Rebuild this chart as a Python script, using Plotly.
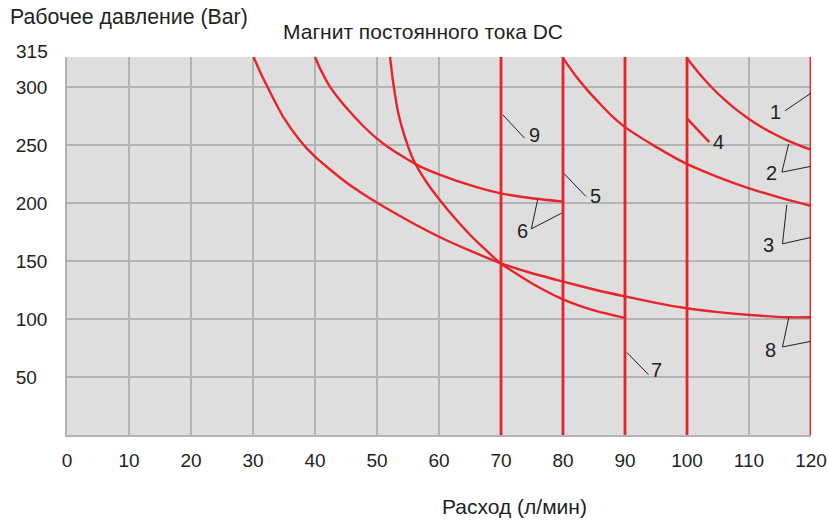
import plotly.graph_objects as go

# ---- axes -----------------------------------------------------------------
# The top edge of the pressure scale carries the 315 bar label
Y_TOP = 326
X_TICKS = list(range(0, 121, 10))
Y_TICKS = [50, 100, 150, 200, 250, 300, Y_TOP]
Y_TICK_TEXT = ["50&nbsp;&nbsp;", "100", "150", "200", "250", "300", ""]
Y_TOP_LABEL = "315"

# ---- characteristic curves: flow (l/min) vs pressure (bar) -----------------
curve8_x = [30.1, 31.2, 32.4, 33.3, 34.8, 37.5, 40.0, 45.0, 50.1, 55.0, 60.0,
            65.0, 69.8, 75.0, 79.9, 85.0, 90.0, 95.0, 99.7, 105.0, 110.2,
            116.3, 120.0]
curve8_y = [326, 312.5, 299.5, 290, 275, 254.5, 240, 218, 200, 185, 171,
            159, 148.5, 139.5, 132.5, 125.5, 119.5, 114, 109.5, 106, 103.5,
            101.5, 101.5]

curve6_x = [40.0, 41.0, 42.4, 44.0, 45.6, 47.5, 49.9, 52.0, 54.8, 57.0, 60.2,
            65.0, 69.8, 75.0, 79.9]
curve6_y = [326, 314, 300.5, 289, 279, 268, 256, 247.5, 238, 231.5, 224.4,
            215.5, 208.6, 204.2, 201.4]

curve7_x = [52.1, 52.7, 53.5, 54.5, 55.9, 58.0, 60.0, 62.5, 65.0, 67.5, 69.8,
            72.5, 75.0, 80.0, 85.0, 90.0]
curve7_y = [326, 300.5, 276, 257, 237, 218, 203.5, 187.3, 172.7, 159.8, 148.5,
            139, 130.7, 117, 107.5, 101]

curve3_x = [80.0, 82.0, 84.0, 86.0, 88.3, 90.0, 95.0, 99.7, 105.0, 109.9,
            115.0, 120.0]
curve3_y = [325, 310, 297, 285.5, 273, 265.5, 248.5, 234.5, 222.5, 213,
            204.7, 197.5]

curve2_x = [100.0, 102.0, 104.0, 106.0, 108.0, 110.0, 112.0, 114.0, 116.0,
            118.0, 120.0]
curve2_y = [325, 311.6, 299.7, 289.4, 280.4, 272.6, 265.7, 259.8, 254.6,
            250.1, 246.1]

curve4_x = [100.1, 103.6]
curve4_y = [272.4, 252.6]

# vertical limit lines (flow, l/min)
limit_x = [70, 80, 90, 100, 120]

# ---- curve numbers and their leader lines ----------------------------------
label_text = ["1", "2", "3", "4", "5", "6", "7", "8", "9"]
label_pos = [(114.2, 278.5), (113.7, 226.0), (113.2, 164.0), (105.1, 253.0),
             (85.3, 206.3), (73.4, 176.1), (95.1, 56.3), (113.4, 73.5),
             (75.4, 259.0)]
leaders = [
    [(115.8, 279.6), (120.0, 294.8)],
    [(116.4, 251.1), (115.3, 226.7), (119.9, 231.6)],
    [(116.1, 198.5), (115.4, 164.9), (119.9, 170.3)],
    [(80.2, 225.3), (83.7, 205.7)],
    [(75.9, 202.8), (74.9, 177.8), (79.8, 191.4)],
    [(90.3, 71.2), (93.8, 52.0)],
    [(116.4, 100.9), (115.4, 75.9), (119.9, 80.7)],
    [(70.3, 276.1), (73.8, 256.0)],
]

RED = "#e8232a"
INK = "#231f20"
GRID = "#b3b3b3"
FONT = "Liberation Sans, Arial, Helvetica, sans-serif"

fig = go.Figure()

for xs, ys in [(curve8_x, curve8_y), (curve6_x, curve6_y), (curve7_x, curve7_y),
               (curve3_x, curve3_y), (curve2_x, curve2_y)]:
    fig.add_trace(go.Scatter(x=xs, y=ys, mode="lines",
                             line=dict(color=RED, width=2.4, shape="spline",
                                       smoothing=0.6),
                             hoverinfo="skip"))

fig.add_trace(go.Scatter(x=curve4_x, y=curve4_y, mode="lines",
                         line=dict(color=RED, width=2.4), hoverinfo="skip"))

for lx in limit_x:
    fig.add_trace(go.Scatter(x=[lx, lx], y=[0, Y_TOP], mode="lines",
                             line=dict(color=RED, width=2.8), hoverinfo="skip"))

for pts in leaders:
    fig.add_trace(go.Scatter(x=[p[0] for p in pts], y=[p[1] for p in pts],
                             mode="lines", line=dict(color=INK, width=1),
                             hoverinfo="skip"))

annotations = []
for txt, (ax, ay) in zip(label_text, label_pos):
    annotations.append(dict(x=ax, y=ay, xref="x", yref="y", text=txt,
                            showarrow=False, xanchor="center", yanchor="middle",
                            font=dict(family=FONT, size=20, color=INK)))

# titles and the top pressure label, placed in paper coordinates
annotations += [
    dict(x=-0.0223, y=1.014, xref="paper", yref="paper",
         text=Y_TOP_LABEL, showarrow=False,
         xanchor="right", yanchor="middle",
         font=dict(family=FONT, size=19, color=INK)),
    dict(x=-0.079, y=1.107, xref="paper", yref="paper",
         text="Рабочее давление (Bar)", showarrow=False,
         xanchor="left", yanchor="middle",
         font=dict(family=FONT, size=21.3, color=INK)),
    dict(x=0.479, y=1.067, xref="paper", yref="paper",
         text="Магнит постоянного тока DC", showarrow=False,
         xanchor="center", yanchor="middle",
         font=dict(family=FONT, size=21, color=INK)),
    dict(x=0.602, y=-0.189, xref="paper", yref="paper",
         text="Расход (л/мин)", showarrow=False,
         xanchor="center", yanchor="middle",
         font=dict(family=FONT, size=21, color=INK)),
]

fig.update_layout(
    width=828, height=525,
    margin=dict(l=67, r=17, t=57, b=90),
    paper_bgcolor="white", plot_bgcolor="#dedede",
    showlegend=False,
    font=dict(family=FONT, size=19, color=INK),
    annotations=annotations,
    xaxis=dict(range=[0, 120], tickvals=X_TICKS, showgrid=True,
               gridcolor=GRID, gridwidth=1.5, zeroline=False,
               showline=True, linecolor=GRID, linewidth=1.5,
               ticks="", ticklabelstandoff=7, automargin=False,
               tickfont=dict(family=FONT, size=19, color=INK)),
    yaxis=dict(range=[0, Y_TOP], tickvals=Y_TICKS, ticktext=Y_TICK_TEXT,
               showgrid=True, gridcolor=GRID, gridwidth=1.5, zeroline=False,
               showline=True, linecolor=GRID, linewidth=1.5,
               ticks="", ticklabelstandoff=14, automargin=False,
               tickfont=dict(family=FONT, size=19, color=INK)),
)

fig.write_html("out.html")
